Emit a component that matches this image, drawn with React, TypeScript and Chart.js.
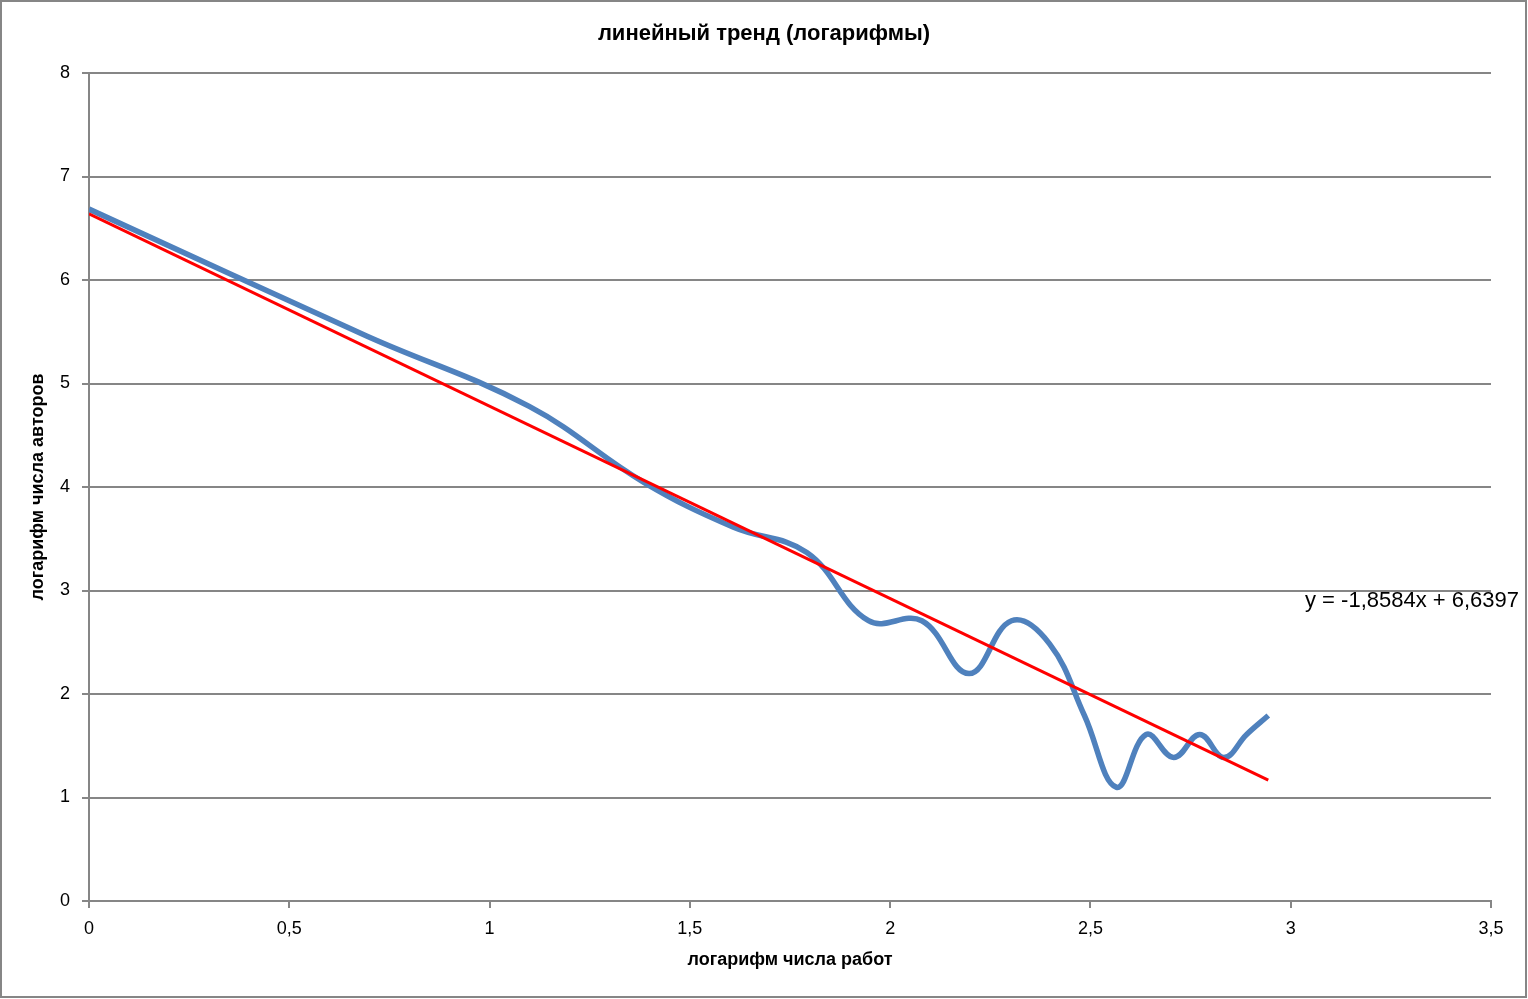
import { useEffect, useRef } from 'react';
import Chart from 'chart.js/auto';

// ln(number of works) and ln(number of authors)
const lnWorks = [0, 0.693, 1.099, 1.386, 1.609, 1.792, 1.946, 2.079, 2.197, 2.303, 2.398, 2.485, 2.565, 2.639, 2.708, 2.773, 2.833, 2.890, 2.944];
const lnAuthors = [6.685, 5.46, 4.779, 4.043, 3.611, 3.367, 2.708, 2.708, 2.197, 2.708, 2.485, 1.792, 1.099, 1.609, 1.386, 1.609, 1.386, 1.609, 1.792];

// linear trendline end points
const trendX = [0, 2.944];
const trendY = [6.6397, 1.1686];
const trendLabel = 'y = -1,8584x + 6,6397';

const chartTitle = 'линейный тренд (логарифмы)';
const xTitle = 'логарифм числа работ';
const yTitle = 'логарифм числа авторов';

const FONT = "'Liberation Sans', Arial, sans-serif";
const GRID = '#868686';

export default function App() {
  const canvasRef = useRef<HTMLCanvasElement>(null);

  useEffect(() => {
    document.body.style.margin = '0';
    const canvas = canvasRef.current;
    if (!canvas) return;
    const context = canvas.getContext('2d');
    if (!context) return;

    // outer frame, title centred on the whole canvas, trendline equation
    const framePlugin = {
      id: 'frame',
      afterDraw(chart: any) {
        const ctx = chart.ctx;
        ctx.save();
        ctx.strokeStyle = GRID;
        ctx.lineWidth = 2;
        ctx.strokeRect(1, 1, 1525, 996);
        ctx.fillStyle = '#000';
        ctx.textBaseline = 'middle';
        ctx.textAlign = 'center';
        ctx.font = `bold 22px ${FONT}`;
        ctx.fillText(chartTitle, chart.width / 2, 34);
        ctx.textAlign = 'left';
        ctx.font = `22px ${FONT}`;
        ctx.fillText(trendLabel, 1305, 601);
        ctx.restore();
      },
    };

    const chart = new Chart(context, {
      type: 'scatter',
      data: {
        datasets: [
          {
            label: 'trend',
            data: trendX.map((x, i) => ({ x, y: trendY[i] })),
            showLine: true,
            borderColor: '#FF0000',
            borderWidth: 3,
            pointRadius: 0,
            tension: 0,
          },
          {
            label: 'ln',
            data: lnWorks.map((x, i) => ({ x, y: lnAuthors[i] })),
            showLine: true,
            borderColor: '#4F81BD',
            borderWidth: 5.5,
            pointRadius: 0,
            tension: 0.4,
          },
        ],
      },
      options: {
        responsive: false,
        animation: false,
        layout: { padding: { left: 0, right: 37, top: 73, bottom: 0 } },
        plugins: {
          legend: { display: false },
          tooltip: { enabled: false },
          title: { display: false },
        },
        scales: {
          x: {
            type: 'linear',
            min: 0,
            max: 3.5,
            afterFit: (scale: any) => {
              scale.height = 98;
            },
            ticks: {
              stepSize: 0.5,
              color: '#000',
              padding: 10,
              font: { family: FONT, size: 18 },
              callback: (v: any) => String(v).replace('.', ','),
            },
            grid: {
              drawOnChartArea: false,
              drawTicks: true,
              tickLength: 7,
              color: GRID,
              lineWidth: 2,
            },
            border: { display: true, color: GRID, width: 2 },
            title: {
              display: true,
              text: xTitle,
              color: '#000',
              font: { family: FONT, size: 18, weight: 'bold' },
              padding: { top: 0, bottom: 28 },
            },
          },
          y: {
            type: 'linear',
            min: 0,
            max: 8,
            afterFit: (scale: any) => {
              scale.width = 89;
            },
            ticks: {
              stepSize: 1,
              color: '#000',
              padding: 12,
              font: { family: FONT, size: 18 },
            },
            grid: {
              drawTicks: true,
              tickLength: 7,
              color: GRID,
              lineWidth: 2,
            },
            border: { display: true, color: GRID, width: 2 },
            title: {
              display: true,
              text: yTitle,
              color: '#000',
              font: { family: FONT, size: 18, weight: 'bold' },
              padding: { top: 27, bottom: 0 },
            },
          },
        },
      },
      plugins: [framePlugin],
    });

    return () => {
      chart.destroy();
    };
  }, []);

  return <canvas ref={canvasRef} width={1528} height={999} style={{ display: 'block' }} />;
}
